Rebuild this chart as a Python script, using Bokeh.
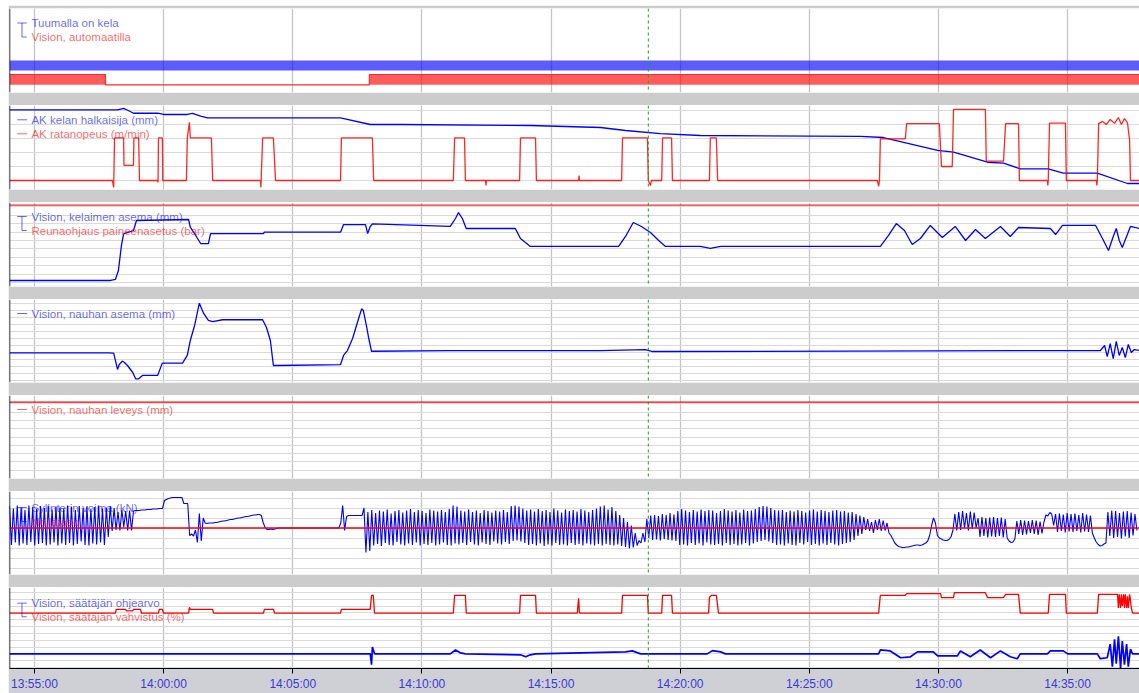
import numpy as np
import pandas as pd
from bokeh.plotting import figure
from bokeh.layouts import column
from bokeh.models import Range1d, FixedTicker, Span, Label, DatetimeTickFormatter, Grid
from bokeh.embed import file_html
from bokeh.resources import INLINE

# ---------------- time base (seconds after 13:55:00) ----------------
BASE_MS = pd.Timestamp("2024-05-14 13:55:00").value / 1e6


def ms(sec):
    return BASE_MS + np.asarray(sec, dtype=float) * 1000.0


view_start, view_end = -58, 2567
tick_secs = [0, 300, 600, 900, 1200, 1500, 1800, 2100, 2400]
cursor_sec = 1426
marker_sec = 1645

# ---------------- Panel 1: boolean states ----------------
reel_on_t = [-58, 2567]
reel_on = [1, 1]
auto_t = [-58, 165, 778, 2567]
auto_on = [1, 0, 1, 1]

# ---------------- Panel 2 ----------------
diam_t = [-58, 193, 207, 218, 230, 286, 300, 355, 367, 386, 402, 711, 780, 850, 1152, 1315, 1373, 1454, 1547,
          1919, 1972, 2098, 2135, 2214, 2251, 2290, 2355, 2390, 2469, 2539, 2567]
diam_mm = [1210, 1210, 1229, 1200, 1161, 1161, 1143, 1143, 1159, 1120, 1096, 1096, 1000, 1000, 986, 957, 914, 871,
           843, 830, 814, 629, 604, 461, 447, 367, 367, 304, 304, 157, 157]

speed_t = [-58, 181, 184, 186, 207, 208, 230, 231, 242, 244, 286, 287, 288, 297, 298, 353, 355, 360, 362, 411, 414,
           525, 526, 530, 555, 560, 711, 713, 785, 788, 973, 976, 999, 1001, 1048, 1049, 1050, 1127, 1129, 1164,
           1166, 1264, 1265, 1266, 1364, 1366, 1424, 1426, 1431, 1433, 1457, 1459, 1480, 1482, 1568, 1570, 1584,
           1587, 1958, 1961, 1963, 1965, 2023, 2026, 2102, 2107, 2132, 2135, 2209, 2211, 2251, 2256, 2286, 2288,
           2353, 2354, 2355, 2358, 2395, 2397, 2467, 2468, 2469, 2472, 2481, 2490, 2499, 2509, 2518, 2525, 2532,
           2539, 2544, 2546, 2567]
speed_mpm = [0, 0, -25, 152, 152, 54, 54, 152, 152, 0, 0, -7, 152, 152, 0, 0, 152, 208, 152, 152, 0, 0, -25, 152,
             152, 0, 0, 152, 152, 0, 0, 152, 152, 0, 0, -18, 0, 0, 152, 152, 0, 0, 18, 0, 0, 152, 152, 0, -18, 0, 0,
             152, 152, 0, 0, 152, 152, 0, 0, -21, 0, 149, 149, 203, 203, 50, 50, 254, 254, 69, 69, 203, 203, 0, 0,
             -18, 0, 205, 205, 0, 0, -18, 0, 203, 211, 200, 218, 204, 225, 200, 221, 207, 143, 0, 0]

# ---------------- Panel 3 ----------------
winder_t = [-58, 177, 188, 195, 202, 207, 230, 237, 358, 362, 376, 386, 404, 409, 532, 534, 711, 718, 769, 774,
            780, 785, 966, 978, 985, 994, 1003, 1117, 1129, 1152, 1357, 1373, 1391, 1410, 1431, 1450, 1466, 1547,
            1570, 1594, 1965, 1984, 2002, 2021, 2039, 2058, 2081, 2109, 2139, 2163, 2186, 2209, 2244, 2267, 2286,
            2360, 2372, 2388, 2465, 2481, 2495, 2506, 2513, 2520, 2527, 2537, 2546, 2567]
winder_mm = [2.4, 2.4, 3.6, 14.3, 44, 58, 61.9, 73.8, 75, 65.8, 54.8, 46.4, 46.4, 58.3, 58.3, 59.9, 59.9, 69, 69,
             58.3, 66.7, 69.9, 66.7, 76.2, 83.3, 76.2, 64.3, 64.3, 52.4, 42.9, 42.9, 54.8, 71.4, 66.7, 59.5, 50,
             42.9, 42.9, 40.5, 42.9, 42.9, 56, 70.2, 61.9, 45.2, 52.4, 67.9, 53.6, 66.7, 50, 63.1, 52.4, 66.7, 54.8,
             65.5, 64.3, 57.1, 67.9, 67.9, 52.4, 38.1, 54.8, 64.3, 50, 41.7, 54.8, 66.7, 64.3]
press_t = [-58, 2567]
press_bar = [6.3, 6.3]

# ---------------- Panel 4 ----------------
strip_pos_t = [-58, 172, 184, 193, 197, 204, 209, 216, 228, 235, 242, 251, 286, 297, 344, 355, 362, 372, 383, 393,
               404, 414, 437, 530, 539, 548, 555, 564, 711, 718, 727, 739, 753, 760, 764, 771, 776, 783, 966, 1315,
               1419, 1436, 2476, 2486, 2492, 2499, 2506, 2513, 2520, 2527, 2534, 2541, 2548, 2555, 2567]
strip_pos_mm = [-0.2, -0.2, -0.4, -12.1, -8.6, -6.2, -7.1, -9.3, -14.1, -18.8, -18.8, -16.4, -16.4, -7.6, -7.6,
                -2.1, 8.6, 19.3, 35.2, 27.9, 22.9, 22.1, 23.4, 23.4, 17.9, 8.6, -9.3, -9.3, -8.6, -2.1, 1.4, 10,
                24.3, 31.2, 30, 19.3, 10.9, 0.9, 1.4, 1.4, 2.1, 0.7, 1.4, 5, -2.9, 6.4, -4.3, 7.9, -2.1, 3.6, -3.6,
                5.7, 0, 2.1, 1.4]

# ---------------- Panel 5 ----------------
width_t = [-58, 2567]
width_mm = [1092, 1092]

# ---------------- Panel 6: cylinder force, sampled every 4.5 s from 13:54:02 ----------------
force_t0 = -58
force_dt = 4.5
force_a = [4.4, -3.4, 3.9, -2.9, 4.5, -3.5, 4.1, -3.1, 3.6, -3.4, 4.5, -2.8, 4.2, -3.5, 3.8, -3.2, 4.4, -3.0,
           4.0, -3.5, 4.5, -3.3, 3.7, -2.9, 4.3, -3.5, 4.1, -3.1, 3.9, -3.4, 4.5, -3.0, 4.2, -3.5, 3.6, -3.2,
           4.4, -2.7, 4.0, -3.4, 4.3, -3.5, 3.8, -3.1, 4.2, -3.3, 4.5, -2.9, 3.9, -3.4, 4.1]
force_b = [-1.8, 4.4, -0.6, 4.0, -0.4, 3.2, -0.5, 3.6, 0.2, 3.4, -0.5, 3.5]
force_c = [-0.5, 3.4, 3.5, 3.5, 3.5, 3.6, 3.6, 3.6, 3.7, 3.7, 3.7, 3.8, 3.8, 3.8, 3.9, 3.9]
force_d = [3.9, 5.5, 5.7, 5.9, 6.0, 6.1, 6.1, 6.1, 6.1, 6.1, 6.1, 4.9, 4.9, 4.9]
force_e = [-1.5, -1.2, -1.6, -0.4, -2.9, 2.9, -2.6, 2.0, 1.0, 0.9, 1.0, 1.0]
force_f = [1.0, 1.1, 1.1, 1.2, 1.3, 1.4, 1.4, 1.5, 1.6, 1.7, 1.7, 1.8, 1.9, 2.0, 2.0, 2.1, 2.2, 2.3, 2.3, 2.4,
           2.5, 2.6, 2.6, 2.7]
force_g = [2.7, 2.5, 1.0, 0.1, -0.3, -0.3, -0.2, -0.3, -0.2, -0.1]
force_h = [0.0, 0.0, 0.0, 0.0, 0.0, 0.0, 0.0, 0.0, 0.0, 0.0, 0.0, 0.0, 0.0, 0.0, 0.0, 0.0,
           0.0, 0.0, 0.0, 0.0, 0.0, 0.0, 0.0, 0.0, 0.0, 0.0, 0.0, 0.0, 0.0, 0.0, 0.0, 0.0]
force_i = [1.0, 4.5, -0.5, 2.3, 2.5, 2.5, 2.5, 2.5, 2.5, 2.5, 2.5, 2.5]
force_j = [4.0, -4.9, 3.2, -4.6, 3.6, -3.5, 3.0, -3.2, 3.5, -3.6, 3.3, -3.0, 3.7, -3.4, 2.9, -3.5, 3.4, -2.8,
           3.6, -3.3, 3.1, -3.5, 3.5, -3.1, 3.8, -3.4, 3.2, -2.9, 3.6, -3.5, 3.4, -3.2, 3.0, -3.4, 3.7, -3.0,
           3.5, -3.5, 3.3, -3.3, 3.6, -2.9, 3.2, -3.4, 3.8, -3.5, 4.5, -3.1, 4.3, -3.3, 3.5, -3.0, 3.3, -3.4,
           3.7, -2.8, 3.2, -3.3, 3.5, -3.5, 3.0, -2.9, 3.6, -3.2, 3.4, -3.4, 3.1, -2.7, 3.5, -3.1, 3.3, -3.3,
           3.6, -2.8, 3.2, -3.2, 4.4, -2.6, 4.5, -2.5, 4.3, -2.7, 3.9, -3.0, 3.5, -3.4, 3.7, -3.2, 3.3, -3.5,
           3.8, -3.1, 3.4, -3.6, 3.6, -3.3, 3.2, -3.5, 3.9, -3.0, 3.5, -3.4, 3.1, -3.3, 3.7, -3.5, 3.4, -3.0,
           3.6, -3.4, 3.3, -3.2, 3.8, -3.5, 3.5, -3.1, 3.2, -3.3, 3.6, -3.5, 3.9, -3.2, 4.3, -3.5, 4.5, -3.2,
           3.7, -3.4, 4.2, -3.5, 3.4, -3.3, 2.6, -3.6, 2.0, -3.8, 1.2, -4.1, 0.5, -3.9, -1.0, -3.5]
force_k = [-2.5, -3.0, -1.0, -2.8, 1.8, -2.0, 2.5, -2.4, 2.6, -2.3, 2.4, -2.5, 2.8, -2.2, 2.6, -2.4, 3.0, -2.5,
           2.7, -2.6, 3.4]
force_l = [-3.4, 3.8, -3.3, 3.5, -3.5, 3.2, -3.0, 3.6, -3.4, 3.3, -3.1, 3.7, -3.5, 3.4, -2.9, 3.6, -3.3, 3.5,
           -3.4, 3.0, -3.2, 3.4, -3.5, 3.8, -3.0, 3.5, -3.4, 3.3, -3.2, 3.6, -3.5, 3.1, -3.3, 3.7, -3.0, 3.4,
           -3.5, 3.5, -3.1, 3.8, -2.8, 4.2, -2.6, 4.4, -2.4, 4.3, -2.7, 4.0, -3.0, 3.6, -3.4, 3.5, -3.3, 3.6,
           -3.5, 3.2, -3.1, 3.5, -3.4, 3.3, -3.5, 3.6, -3.0, 3.4, -3.3, 3.1, -2.8, 3.5, -3.4, 3.7, -3.2, 3.3,
           -3.5, 3.6, -3.1, 3.4, -3.4, 3.2, -3.0, 3.5, -3.3, 3.6, -3.5, 3.3, -3.2, 3.4, -3.0, 3.1, -2.8, 3.2,
           -2.4, 2.8, -1.6, 2.5, -1.2, 2.2, -0.4, 1.8, -0.6, 1.2, -1.0, 1.6, -0.4]
force_m = [1.8, -0.6, 1.5, -0.5, 1.0, -1.0, -1.5, -2.2, -3.0, -3.4, -3.7, -3.8, -3.9, -3.9, -3.8, -3.8, -3.7,
           -3.6, -3.5, -3.4, -3.4, -3.5, -3.4, -3.2, -3.0, -2.6, -1.5, 0.5, 2.0, 1.0, -1.5, -2.0, -2.2, -2.4,
           -2.5, -2.5, -2.3, -1.8, -0.5, 2.8, -0.5]
force_n = [3.2, -0.4, 3.4, 0.0, 3.0, -0.5, 3.3, -0.2, 3.1, 0.0,
           2.0, -1.8, 2.2, -1.6, 2.0, -1.9, 2.1, -1.7, 2.2, -1.8, 2.0, -1.6, 2.1, -1.9, 1.8, -2.0,
           -2.6, -2.9, -2.8, -2.2,
           1.4, -1.2, 1.6, -1.4, 1.5, -1.3, 1.4, -1.0, 1.6, -1.2, 1.5, -1.4, 1.3, -1.1, 1.2,
           2.6, 2.4, 3.1, 2.8, 0.5,
           2.8, -0.8, 2.9, -0.6, 2.7, -0.9, 3.0, -0.7, 2.8, -0.8, 2.9, -0.6, 2.6, -0.9, 3.0, -0.7, 2.7, -0.8, 2.5,
           -1.0, -2.0, -2.8, -3.3, -3.6, -3.5, -3.2, -3.0,
           3.2, -1.6, 3.5, -2.0, 3.4, -1.8, 3.0, -2.1, 3.3, -1.7, 3.4, -2.0, 3.1, -1.5, 2.8, -0.5]
force_kN = (force_a + force_b + force_c + force_d + force_e + force_f + force_g + force_h + force_i + force_j
            + force_k + force_l + force_m + force_n)
zero_t = [-58, 2567]
zero_kN = [0, 0]

# ---------------- Panel 7 ----------------
setp_t = [-58, 780, 783, 785, 790, 966, 978, 990, 1001, 1129, 1141, 1152, 1164, 1373, 1389, 1408, 1563, 1575,
          1594, 1605, 1961, 1965, 1988, 2012, 2035, 2051, 2088, 2098, 2144, 2151, 2174, 2197, 2221, 2244, 2267,
          2283, 2290, 2353, 2360, 2390, 2400, 2469, 2476, 2492, 2499, 2504, 2509, 2513, 2518, 2523, 2527, 2532,
          2537, 2541, 2546, 2551, 2567]
setp = [0, 0, -1.57, 1.0, 0, 0, 0.57, 0.14, 0, -0.14, -0.43, -0.14, 0, 0.29, 0.43, 0, 0, 0.47, 0.29, 0, 0, 0.57,
        0.43, -0.57, -0.43, 0.29, 0.29, -0.29, -0.29, 0.43, -0.43, 0.57, -0.57, 0.43, -0.43, -0.71, 0, 0, 0.43,
        0.43, 0, 0, -0.71, -0.57, 1.43, -1.86, 2.14, -1.43, 2.57, -2.14, 1.86, -1.57, 1.43, -1.86, 0.71, 0, 0]

gain_t = [-58, 188, 190, 211, 214, 228, 230, 246, 249, 288, 290, 297, 300, 358, 360, 362, 414, 416, 532, 534, 555,
          558, 711, 713, 780, 783, 787, 790, 973, 976, 1001, 1003, 1127, 1129, 1164, 1166, 1261, 1264, 1266, 1364,
          1366, 1424, 1426, 1457, 1459, 1480, 1482, 1566, 1568, 1573, 1584, 1589, 1961, 1965, 2023, 2026, 2105,
          2107, 2135, 2137, 2209, 2214, 2251, 2256, 2286, 2290, 2355, 2358, 2395, 2397, 2469, 2472, 2516, 2518,
          2520, 2523, 2525, 2527, 2530, 2532, 2534, 2537, 2539, 2541, 2544, 2546, 2548, 2551, 2567]
gain_pct = [68.3, 68.3, 73.1, 73.1, 71.1, 71.1, 73.1, 73.1, 68.3, 68.3, 73.1, 73.1, 68.3, 68.3, 75.5, 73.1, 73.1,
            68.3, 68.3, 73.1, 73.1, 68.3, 68.3, 73.1, 73.1, 90.4, 90.4, 68.3, 68.3, 90.4, 90.4, 68.3, 68.3, 90.4,
            90.4, 68.3, 68.3, 86.7, 68.3, 68.3, 90.4, 90.4, 68.3, 68.3, 90.4, 90.4, 68.3, 68.3, 88.0, 90.4, 90.4,
            68.3, 68.3, 90.4, 90.4, 92.4, 92.4, 87.6, 87.6, 93.6, 93.6, 87.6, 87.6, 91.6, 91.6, 68.3, 68.3, 91.6,
            91.6, 68.3, 68.3, 91.6, 91.6, 74.7, 91.6, 74.7, 91.6, 77.1, 91.6, 74.7, 91.6, 74.7, 89.2, 74.7, 91.6,
            84.3, 74.7, 68.3, 68.3]

# ---------------- styling ----------------
BLUE = "#0000ff"
RED = "#ff0000"
FONT = "Liberation Sans"
WIDTH = 1131
xr = Range1d(float(ms(view_start)), float(ms(view_end)))


def make_panel(yr, fh, yticks, last=False, first=False):
    bb = 23 if last else 13
    bt = 3 if first else 0
    p = figure(width=WIDTH, height=fh + bb + bt, x_range=xr, y_range=yr, x_axis_type="datetime",
               x_axis_location="below" if last else None, y_axis_location=None,
               output_backend="svg", toolbar_location=None,
               min_border_left=1, min_border_right=0, min_border_top=bt, min_border_bottom=bb)
    p.margin = (5 if first else 0, 0, 0, 8)
    p.background_fill_color = "white"
    p.border_fill_color = "#cfcfd6" if last else "#cccccc"
    p.outline_line_color = None
    xt = FixedTicker(ticks=[float(v) for v in ms(tick_secs)])
    if len(p.xgrid) == 0:
        p.add_layout(Grid(dimension=0, ticker=xt))
    p.xgrid.ticker = xt
    p.xgrid.grid_line_color = "#c4c4c4"
    p.xgrid.grid_line_width = 1.3
    if len(p.ygrid) == 0:
        p.add_layout(Grid(dimension=1, ticker=FixedTicker(ticks=yticks)))
    p.ygrid.ticker = FixedTicker(ticks=yticks)
    p.ygrid.grid_line_color = "#dadada"
    p.add_layout(Span(location=float(ms(view_start)), dimension="height", line_color="black", line_width=1.5))
    p.add_layout(Span(location=float(ms(cursor_sec)), dimension="height", line_color="#1f9f1f",
                      line_dash="3 3", line_width=1))
    if last:
        xax = p.xaxis[0]
        xax.ticker = xt
        fmt = "%H:%M:%S"
        xax.formatter = DatetimeTickFormatter(seconds=fmt, minsec=fmt, minutes=fmt, hourmin=fmt, hours=fmt)
        xax.major_label_text_color = "#3a3ad6"
        xax.major_label_text_font = FONT
        xax.major_label_text_font_size = "12px"
        xax.major_tick_out = 5
        xax.major_tick_in = 0
        xax.minor_tick_line_color = None
        xax.axis_line_color = "black"
        xax.major_label_standoff = 3
    return p


def legend(p, yr, fh, items, bracket):
    def yat(off):
        return yr.end - off / fh * (yr.end - yr.start)
    for text, color, off in items:
        p.add_layout(Label(x=float(ms(-7)), y=yat(off), text=text, text_color=color, text_alpha=0.62,
                           text_font=FONT, text_font_size="11.5px", text_baseline="middle", text_align="left"))
    if bracket:
        ya, yb = yat(items[0][2]), yat(items[1][2])
        p.multi_line(xs=[list(ms([-40, -18])), list(ms([-29, -29, -18]))], ys=[[ya, ya], [ya, yb, yb]],
                     line_color=BLUE, line_alpha=0.6, line_width=1)
    else:
        for text, color, off in items:
            p.line(ms([-40, -17]), [yat(off)] * 2, line_color=color, line_alpha=0.6, line_width=1)


LW = 1.3

# Panel 1
yr1 = Range1d(0, 84)
p1 = make_panel(yr1, 84, [], first=True)
p1.extra_y_ranges = {"reel": Range1d(-2.2, 6.2), "auto": Range1d(-0.748, 7.408)}
p1.varea_step(x=ms(reel_on_t), y1=[0] * len(reel_on), y2=reel_on, step_mode="after",
              fill_color=BLUE, fill_alpha=0.64, y_range_name="reel")
p1.varea_step(x=ms(auto_t), y1=[0] * len(auto_on), y2=auto_on, step_mode="after",
              fill_color=RED, fill_alpha=0.64, y_range_name="auto")
p1.step(ms(auto_t), auto_on, mode="after", line_color="#ff2a2a", line_width=1.2, y_range_name="auto")
legend(p1, yr1, 84, [("Tuumalla on kela", BLUE, 14.5), ("Vision, automaatilla", RED, 28.5)], True)

# Panel 2
yr2 = Range1d(71.4, 1271.4)
p2 = make_panel(yr2, 84, [200, 400, 600, 800, 1000, 1200])
p2.extra_y_ranges = {"speed": Range1d(-32.14, 267.86)}
p2.line(ms(diam_t), diam_mm, line_color=BLUE, line_width=LW)
p2.line(ms(speed_t), speed_mpm, line_color=RED, line_width=LW, line_alpha=0.85, y_range_name="speed")
legend(p2, yr2, 84, [("AK kelan halkaisija (mm)", BLUE, 14.3), ("AK ratanopeus (m/min)", RED, 28.3)], False)

# Panel 3
yr3 = Range1d(-4.76, 95.24)
p3 = make_panel(yr3, 84, [0, 10, 20, 30, 40, 50, 60, 70, 80, 90])
p3.extra_y_ranges = {"bar": Range1d(0, 6.5)}
p3.line(ms(press_t), press_bar, line_color=RED, line_width=LW, line_alpha=0.85, y_range_name="bar")
p3.line(ms(winder_t), winder_mm, line_color=BLUE, line_width=LW)
legend(p3, yr3, 84, [("Vision, kelaimen asema (mm)", BLUE, 14), ("Reunaohjaus paineenasetus (bar)", RED, 28)], True)

# Panel 4
yr4 = Range1d(-21.43, 37.86)
p4 = make_panel(yr4, 83, [-20, -15, -10, -5, 0, 5, 10, 15, 20, 25, 30, 35])
p4.line(ms(strip_pos_t), strip_pos_mm, line_color=BLUE, line_width=LW)
legend(p4, yr4, 83, [("Vision, nauhan asema (mm)", BLUE, 14)], False)

# Panel 5
yr5 = Range1d(1000, 1100)
p5 = make_panel(yr5, 83, [1010, 1020, 1030, 1040, 1050, 1060, 1070, 1080, 1090])
p5.line(ms(width_t), width_mm, line_color=RED, line_width=LW)
legend(p5, yr5, 83, [("Vision, nauhan leveys (mm)", RED, 14)], False)

# Panel 6
yr6 = Range1d(-9.3, 7.3)
p6 = make_panel(yr6, 83, [-8, -6, -4, -2, 0, 2, 4, 6])
force_t = [force_t0 + force_dt * i for i in range(len(force_kN))]
p6.line(ms(force_t), force_kN, line_color=BLUE, line_width=1.1)
p6.line(ms(zero_t), zero_kN, line_color=RED, line_width=LW)
legend(p6, yr6, 83, [("Sylinterin voima (kN)", BLUE, 16), ("Nollataso", RED, 30)], True)

# Panel 7
yr7 = Range1d(-2.143, 9.714)
p7 = make_panel(yr7, 83, [-2, -1, 0, 1, 2, 3, 4, 5, 6, 7, 8, 9], last=True)
p7.extra_y_ranges = {"pct": Range1d(0, 100)}
p7.line(ms(gain_t), gain_pct, line_color=RED, line_width=LW, y_range_name="pct")
p7.line(ms(setp_t), setp, line_color=BLUE, line_width=1.7)
legend(p7, yr7, 83, [("Vision, säätäjän ohjearvo", BLUE, 16), ("Vision, säätäjän vahvistus (%)", RED, 30)], True)
p7.add_layout(Label(x=float(ms(marker_sec)), y=-3.3, text="▲", text_color="#8a8a8a", text_font_size="8px",
                    text_font="DejaVu Sans", text_align="center", text_baseline="middle", level="overlay"))

layout = column(p1, p2, p3, p4, p5, p6, p7, spacing=0)
open("out.html", "w").write(file_html(layout, INLINE, title="Trendi"))
